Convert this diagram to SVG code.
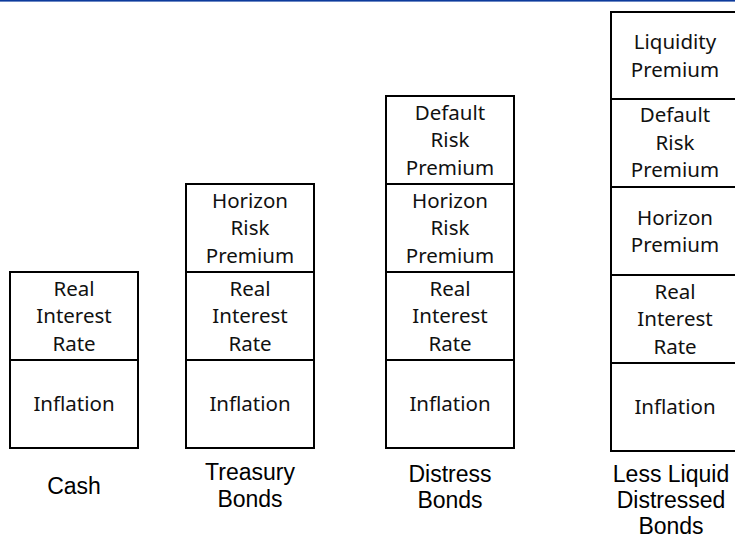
<svg xmlns="http://www.w3.org/2000/svg" width="735" height="541" viewBox="0 0 735 541">
<style>
.cell{fill:#ffffff;stroke:#000000;stroke-width:2}
.t{font-family:"Noto Sans","Open Sans",sans-serif;font-size:20.5px;fill:#111111;text-anchor:middle}
.lbl{font-family:"Liberation Sans",Arial,sans-serif;font-size:23px;fill:#000000;text-anchor:middle}
</style>
<rect x="0" y="0" width="735" height="1.6" fill="#0d3a9c"/>
<g id="cash">
  <g id="cash-rir"><rect class="cell" x="10" y="272" width="128" height="88"/>
    <text class="t" x="74" y="295.5">Real</text><text class="t" x="74" y="323">Interest</text><text class="t" x="74" y="350.5">Rate</text></g>
  <g id="cash-inf"><rect class="cell" x="10" y="360" width="128" height="88"/>
    <text class="t" x="74" y="411">Inflation</text></g>
  <text class="lbl" x="74" y="494">Cash</text>
</g>
<g id="treasury">
  <g id="tr-hrp"><rect class="cell" x="186" y="184" width="128" height="88"/>
    <text class="t" x="250" y="207.5">Horizon</text><text class="t" x="250" y="235">Risk</text><text class="t" x="250" y="262.5">Premium</text></g>
  <g id="tr-rir"><rect class="cell" x="186" y="272" width="128" height="88"/>
    <text class="t" x="250" y="295.5">Real</text><text class="t" x="250" y="323">Interest</text><text class="t" x="250" y="350.5">Rate</text></g>
  <g id="tr-inf"><rect class="cell" x="186" y="360" width="128" height="88"/>
    <text class="t" x="250" y="411">Inflation</text></g>
  <text class="lbl" x="250" y="480">Treasury</text><text class="lbl" x="250" y="507">Bonds</text>
</g>
<g id="distress">
  <g id="di-drp"><rect class="cell" x="386" y="96" width="128" height="88"/>
    <text class="t" x="450" y="119.5">Default</text><text class="t" x="450" y="147">Risk</text><text class="t" x="450" y="174.5">Premium</text></g>
  <g id="di-hrp"><rect class="cell" x="386" y="184" width="128" height="88"/>
    <text class="t" x="450" y="207.5">Horizon</text><text class="t" x="450" y="235">Risk</text><text class="t" x="450" y="262.5">Premium</text></g>
  <g id="di-rir"><rect class="cell" x="386" y="272" width="128" height="88"/>
    <text class="t" x="450" y="295.5">Real</text><text class="t" x="450" y="323">Interest</text><text class="t" x="450" y="350.5">Rate</text></g>
  <g id="di-inf"><rect class="cell" x="386" y="360" width="128" height="88"/>
    <text class="t" x="450" y="411">Inflation</text></g>
  <text class="lbl" x="450" y="482">Distress</text><text class="lbl" x="450" y="508">Bonds</text>
</g>
<g id="lessliquid">
  <g id="ll-lp"><rect class="cell" x="611" y="12" width="128" height="87"/>
    <text class="t" x="675" y="49">Liquidity</text><text class="t" x="675" y="76.5">Premium</text></g>
  <g id="ll-drp"><rect class="cell" x="611" y="99" width="128" height="88"/>
    <text class="t" x="675" y="122">Default</text><text class="t" x="675" y="149.5">Risk</text><text class="t" x="675" y="177">Premium</text></g>
  <g id="ll-hp"><rect class="cell" x="611" y="187" width="128" height="88"/>
    <text class="t" x="675" y="224.5">Horizon</text><text class="t" x="675" y="252">Premium</text></g>
  <g id="ll-rir"><rect class="cell" x="611" y="275" width="128" height="88"/>
    <text class="t" x="675" y="298.5">Real</text><text class="t" x="675" y="326">Interest</text><text class="t" x="675" y="353.5">Rate</text></g>
  <g id="ll-inf"><rect class="cell" x="611" y="363" width="128" height="88"/>
    <text class="t" x="675" y="414">Inflation</text></g>
  <text class="lbl" x="671" y="482">Less Liquid</text><text class="lbl" x="671" y="508">Distressed</text><text class="lbl" x="671" y="534">Bonds</text>
</g>
</svg>
